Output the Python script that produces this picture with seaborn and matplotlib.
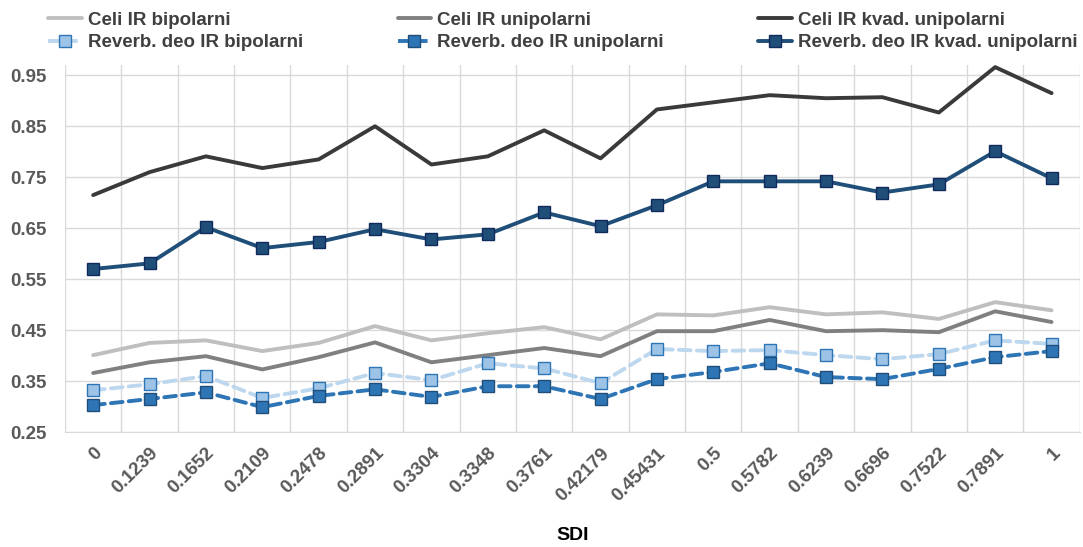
import numpy as np
import pandas as pd
import seaborn as sns
import matplotlib.pyplot as plt
from matplotlib.lines import Line2D

sdi_labels = ['0', '0.1239', '0.1652', '0.2109', '0.2478', '0.2891', '0.3304', '0.3348', '0.3761',
              '0.42179', '0.45431', '0.5', '0.5782', '0.6239', '0.6696', '0.7522', '0.7891', '1']

celi_bip = [0.401, 0.425, 0.430, 0.409, 0.425, 0.458, 0.430, 0.444, 0.456,
            0.432, 0.481, 0.479, 0.495, 0.481, 0.485, 0.472, 0.505, 0.489]
celi_uni = [0.366, 0.387, 0.399, 0.373, 0.397, 0.426, 0.387, 0.401, 0.415,
            0.399, 0.448, 0.448, 0.470, 0.448, 0.450, 0.446, 0.487, 0.466]
celi_kvad = [0.715, 0.760, 0.791, 0.768, 0.785, 0.850, 0.775, 0.791, 0.842,
             0.787, 0.883, 0.897, 0.911, 0.905, 0.907, 0.877, 0.966, 0.915]
rev_bip = [0.332, 0.344, 0.360, 0.317, 0.336, 0.366, 0.352, 0.385, 0.375,
           0.346, 0.413, 0.409, 0.411, 0.401, 0.393, 0.403, 0.430, 0.423]
rev_uni = [0.303, 0.315, 0.328, 0.299, 0.321, 0.334, 0.319, 0.340, 0.340,
           0.315, 0.354, 0.368, 0.385, 0.358, 0.354, 0.374, 0.397, 0.409]
rev_kvad = [0.570, 0.581, 0.652, 0.611, 0.623, 0.648, 0.628, 0.638, 0.681,
            0.654, 0.695, 0.742, 0.742, 0.742, 0.720, 0.736, 0.801, 0.748]

series_names = ['Celi IR bipolarni', 'Celi IR unipolarni', 'Celi IR kvad. unipolarni',
                'Reverb. deo IR bipolarni', 'Reverb. deo IR unipolarni', 'Reverb. deo IR kvad. unipolarni']

sns.set_style('white')
plt.rcParams['font.family'] = ['Liberation Sans', 'DejaVu Sans']
plt.rcParams['font.weight'] = 'bold'

styles = {
    'Celi IR bipolarni': dict(color='#bfbfbf', ls='-', marker=None, mfc=None, mec=None),
    'Celi IR unipolarni': dict(color='#808080', ls='-', marker=None, mfc=None, mec=None),
    'Celi IR kvad. unipolarni': dict(color='#3a3a3a', ls='-', marker=None, mfc=None, mec=None),
    'Reverb. deo IR bipolarni': dict(color='#bdd7ee', ls=(0, (3, 1.6)), marker='s', mfc='#9dc3e6', mec='#2e75b6'),
    'Reverb. deo IR unipolarni': dict(color='#2e75b6', ls=(0, (3, 1.6)), marker='s', mfc='#2e75b6', mec='#1f4e79'),
    'Reverb. deo IR kvad. unipolarni': dict(color='#1f4e79', ls='-', marker='s', mfc='#1f4e79', mec='#102a5c'),
}

df = pd.DataFrame({
    'pos': np.arange(len(sdi_labels)),
    'Celi IR bipolarni': celi_bip,
    'Celi IR unipolarni': celi_uni,
    'Celi IR kvad. unipolarni': celi_kvad,
    'Reverb. deo IR bipolarni': rev_bip,
    'Reverb. deo IR unipolarni': rev_uni,
    'Reverb. deo IR kvad. unipolarni': rev_kvad,
})

fig = plt.figure(figsize=(10.83, 5.47), dpi=100)
ax = fig.add_axes([0.060, 0.21, 0.937, 0.671])

handles = {}
for name in series_names:
    st = styles[name]
    sns.lineplot(data=df, x='pos', y=name, ax=ax, color=st['color'], linewidth=2.8,
                 linestyle=st['ls'], marker=st['marker'], markersize=8,
                 markerfacecolor=st['mfc'], markeredgecolor=st['mec'], markeredgewidth=1.0,
                 dash_capstyle='round', zorder=3)
    handles[name] = Line2D([], [], color=st['color'], linewidth=2.8, linestyle=st['ls'],
                           marker=st['marker'], markersize=8, markerfacecolor=st['mfc'],
                           markeredgecolor=st['mec'])

ax.set_xlim(-0.5, len(sdi_labels) - 0.5)
ax.set_ylim(0.25, 0.97)
ax.set_yticks(np.arange(0.25, 0.96, 0.1))
ax.set_yticklabels([f'{v:.2f}' for v in np.arange(0.25, 0.96, 0.1)])
ax.set_xticks(np.arange(len(sdi_labels)))
ax.set_xticklabels(sdi_labels, rotation=45, ha='right', rotation_mode='anchor')
ax.set_xticks(np.arange(-0.5, len(sdi_labels), 1), minor=True)
ax.tick_params(axis='both', which='both', length=0, labelsize=13.5, labelcolor='#595959')
ax.tick_params(axis='x', pad=9)
ax.tick_params(axis='y', pad=13)
ax.grid(False)
ax.grid(True, which='minor', axis='x', color='#d9d9d9', linewidth=1)
ax.grid(True, which='major', axis='y', color='#d9d9d9', linewidth=1)
ax.set_axisbelow(True)
for s in ['top', 'right', 'left']:
    ax.spines[s].set_visible(False)
ax.spines['bottom'].set_color('#d9d9d9')

ax.set_xlabel('SDI', fontsize=14, fontweight='bold', color='black', labelpad=16)
ax.set_ylabel('')

order = ['Celi IR bipolarni', 'Reverb. deo IR bipolarni', 'Celi IR unipolarni',
         'Reverb. deo IR unipolarni', 'Celi IR kvad. unipolarni', 'Reverb. deo IR kvad. unipolarni']
fig.legend([handles[n] for n in order], order, ncol=3, loc='upper left',
           bbox_to_anchor=(0.029, 1.01), frameon=False, fontsize=13.5,
           handlelength=1.8, handletextpad=0.3, columnspacing=5.05, labelspacing=0.3,
           labelcolor='#404040')

fig.savefig('out.png', dpi=100)
